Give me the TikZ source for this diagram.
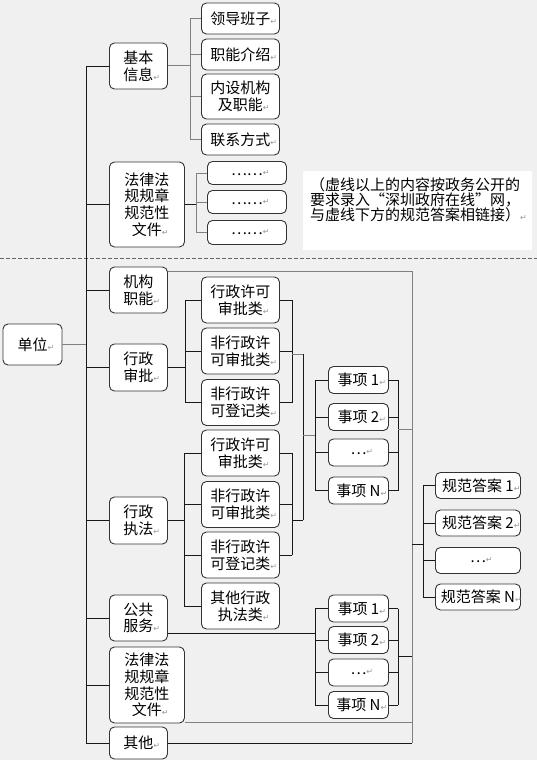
\documentclass[tikz,border=0pt]{standalone}
\usepackage{fontspec}
\setmainfont{Noto Sans CJK SC}
\newfontfamily\symf{DejaVu Sans}
\newcommand\retmk{\rlap{\symf\fontsize{8}{8}\selectfont\textcolor{black!40}{↵}}}

\begin{document}
\begin{tikzpicture}[x=1pt,y=-1pt,font=\fontsize{15}{16.7}\selectfont]
\tikzstyle{box}=[draw=black!80,fill=white,rounded corners=5pt,line width=0.9pt,align=center,inner sep=1pt]
\tikzstyle{ln}=[black!90,line width=0.8pt]
\tikzstyle{gln}=[black!50,line width=1pt]
\fill[black!6] (0,0) rectangle (537,760);
\useasboundingbox (0,0) rectangle (537,760);
\draw[black!60,line width=0.8pt,dash pattern=on 4pt off 2pt] (0,258) -- (537,258);
% note
\node[fill=white,minimum width=229,minimum height=79,anchor=north west,inner sep=0] (NB) at (303,171) {};
\node[anchor=north west,align=left,inner sep=0,font=\fontsize{15}{15}\selectfont] (NT) at (310,177)
	{（虚线以上的内容按政务公开的\\要求录入“深圳政府在线”网，\\与虚线下方的规范答案相链接）\retmk};
% root and first level
\node[box,minimum width=59,minimum height=41] (U) at (32.5,344.5) {单位\retmk};
\node[box,minimum width=58,minimum height=46,anchor=west] (J1) at (109,66) {基本\\信息\retmk};
\node[box,minimum width=75,minimum height=85,anchor=west] (F1) at (109,204.5) {法律法\\规规章\\规范性\\文件\retmk};
\node[box,minimum width=58,minimum height=46,anchor=west] (JG) at (109,290) {机构\\职能\retmk};
\node[box,minimum width=58,minimum height=47,anchor=west] (SP) at (109,367.5) {行政\\审批\retmk};
\node[box,minimum width=58,minimum height=47,anchor=west] (ZF) at (109,520.5) {行政\\执法\retmk};
\node[box,minimum width=58,minimum height=46,anchor=west] (GG) at (109,618) {公共\\服务\retmk};
\node[box,minimum width=75,minimum height=76,anchor=west] (F2) at (109,685) {法律法\\规规章\\规范性\\文件\retmk};
\node[box,minimum width=58,minimum height=32,anchor=west] (QT) at (109,743) {其他\retmk};
% second level
\node[box,minimum width=78,minimum height=31,anchor=west] (ldbz) at (201,18.5) {领导班子\retmk};
\node[box,minimum width=78,minimum height=31,anchor=west] (znjs) at (201,54.5) {职能介绍\retmk};
\node[box,minimum width=78,minimum height=45,anchor=west] (nsjg) at (201,96.5) {内设机构\\及职能\retmk};
\node[box,minimum width=78,minimum height=31,anchor=west] (lxfs) at (201,139.5) {联系方式\retmk};
\node[box,minimum width=79,minimum height=23,anchor=west] (D1) at (207,173) {……\retmk};
\node[box,minimum width=79,minimum height=23,anchor=west] (D2) at (207,202) {……\retmk};
\node[box,minimum width=79,minimum height=24,anchor=west] (D3) at (207,232.5) {……\retmk};
\node[box,minimum width=78,minimum height=46,anchor=west] (S1) at (201,300) {行政许可\\审批类\retmk};
\node[box,minimum width=78,minimum height=46,anchor=west] (S2) at (201,351) {非行政许\\可审批类\retmk};
\node[box,minimum width=78,minimum height=46,anchor=west] (S3) at (201,402.5) {非行政许\\可登记类\retmk};
\node[box,minimum width=78,minimum height=46,anchor=west] (Z1) at (201,453) {行政许可\\审批类\retmk};
\node[box,minimum width=78,minimum height=46,anchor=west] (Z2) at (201,504.5) {非行政许\\可审批类\retmk};
\node[box,minimum width=78,minimum height=46,anchor=west] (Z3) at (201,555) {非行政许\\可登记类\retmk};
\node[box,minimum width=78,minimum height=46,anchor=west] (Z4) at (201,606) {其他行政\\执法类\retmk};
% items
\node[box,minimum width=60,minimum height=27,anchor=west] (X1) at (328,380) {事项 1\retmk};
\node[box,minimum width=60,minimum height=27,anchor=west] (X2) at (328,417) {事项 2\retmk};
\node[box,minimum width=60,minimum height=27,anchor=west] (X3) at (328,452.5) {…\retmk};
\node[box,minimum width=60,minimum height=27,anchor=west] (X4) at (328,490.5) {事项 N\retmk};
\node[box,minimum width=60,minimum height=27,anchor=west] (Y1) at (328,608.5) {事项 1\retmk};
\node[box,minimum width=60,minimum height=27,anchor=west] (Y2) at (328,640) {事项 2\retmk};
\node[box,minimum width=60,minimum height=27,anchor=west] (Y3) at (328,672.5) {…\retmk};
\node[box,minimum width=60,minimum height=27,anchor=west] (Y4) at (328,705) {事项 N\retmk};
\node[box,minimum width=85,minimum height=26,anchor=west] (G1) at (435,485.5) {规范答案 1\retmk};
\node[box,minimum width=85,minimum height=26,anchor=west] (G2) at (435,523) {规范答案 2\retmk};
\node[box,minimum width=85,minimum height=26,anchor=west] (G3) at (435,560.5) {…\retmk};
\node[box,minimum width=85,minimum height=26,anchor=west] (G4) at (435,597) {规范答案 N\retmk};
% branch columns
\coordinate (tk) at (86,0);
\coordinate (bA) at (190,0);
\coordinate (bB) at (196,0);
\coordinate (bC) at (185,0);
\coordinate (bJ) at (184,0);
\coordinate (bD) at (292,0);
\coordinate (bE) at (303,0);
\coordinate (bF) at (315,0);
\coordinate (bG) at (398,0);
\coordinate (bH) at (412,0);
\coordinate (bI) at (423,0);
\coordinate (spo) at (292,354);
\coordinate (zfo) at (292,520);
\coordinate (xi) at (303,435);
\coordinate (xo) at (398,429);
\coordinate (yo) at (398,656);
\coordinate (gi) at (412,544);
\coordinate (jt) at ([yshift=-5pt]JG.north east);
\coordinate (gt) at ([yshift=-15pt]GG.east);
\coordinate (ft) at ([yshift=1pt]F2.south east);
% trunk
\draw[gln] (U.east) -- (U.east -| tk);
\draw[ln] (J1.west -| tk) -- (QT.west -| tk);
\foreach \n in {J1,F1,JG,SP,ZF,GG,F2,QT}
	\draw[ln] (\n.west) -- (\n.west -| tk);
% basic info
\draw[gln] (J1.east) -- (J1.east -| bA);
\draw[gln] (ldbz.west -| bA) -- (lxfs.west -| bA);
\foreach \n in {ldbz,znjs,nsjg,lxfs}
	\draw[gln] (\n.west) -- (\n.west -| bA);
\draw[ln] (F1.east) -- (F1.east -| bB);
\draw[gln] (D1.west -| bB) -- (D3.west -| bB);
\foreach \n in {D1,D2,D3}
	\draw[gln] (\n.west) -- (\n.west -| bB);
% approval
\draw[ln] (SP.east) -- (SP.east -| bC);
\draw[ln] (S1.west -| bC) -- (S3.west -| bC);
\foreach \n in {S1,S2,S3}{
	\draw[ln] (\n.west) -- (\n.west -| bC);
	\draw[ln] (\n.east) -- (\n.east -| bD);}
\draw[ln] (S1.east -| bD) -- (S3.east -| bD);
\draw[gln] (spo) -- (spo -| bE);
% enforcement
\draw[ln] (ZF.east) -- (ZF.east -| bJ);
\draw[ln] (Z1.west -| bJ) -- (Z4.west -| bJ);
\foreach \n in {Z1,Z2,Z3,Z4}
	\draw[ln] (\n.west) -- (\n.west -| bJ);
\foreach \n in {Z1,Z2,Z3}
	\draw[ln] (\n.east) -- (\n.east -| bD);
\draw[ln] (Z1.east -| bD) -- (Z3.east -| bD);
\draw[ln] (zfo) -- (zfo -| bE);
\draw[ln] (spo -| bE) -- (zfo -| bE);
\draw[gln] (xi) -- (xi -| bF);
% items
\draw[ln] (X1.west -| bF) -- (X4.west -| bF);
\draw[ln] (X1.east -| bG) -- (X4.east -| bG);
\foreach \n in {X1,X2,X3,X4}{
	\draw[ln] (\n.west) -- (\n.west -| bF);
	\draw[ln] (\n.east) -- (\n.east -| bG);}
\draw[gln] (xo) -- (xo -| bH);
\draw[ln] (gt) -- (gt -| bF);
\draw[ln] (Y1.west -| bF) -- (Y4.west -| bF);
\draw[ln] (Y1.east -| bG) -- (Y4.east -| bG);
\foreach \n in {Y1,Y2,Y3,Y4}{
	\draw[ln] (\n.west) -- (\n.west -| bF);
	\draw[ln] (\n.east) -- (\n.east -| bG);}
\draw[ln] (yo) -- (yo -| bH);
% answers
\draw[gln] (jt) -- (jt -| bH) -- (QT.east -| bH);
\draw[ln] (QT.east) -- (QT.east -| bH);
\draw[gln] (ft) -- (ft -| bH);
\draw[ln] (gi) -- (gi -| bI);
\draw[ln] (G1.west -| bI) -- (G4.west -| bI);
\foreach \n in {G1,G2,G3,G4}
	\draw[ln] (\n.west) -- (\n.west -| bI);
\end{tikzpicture}
\end{document}
